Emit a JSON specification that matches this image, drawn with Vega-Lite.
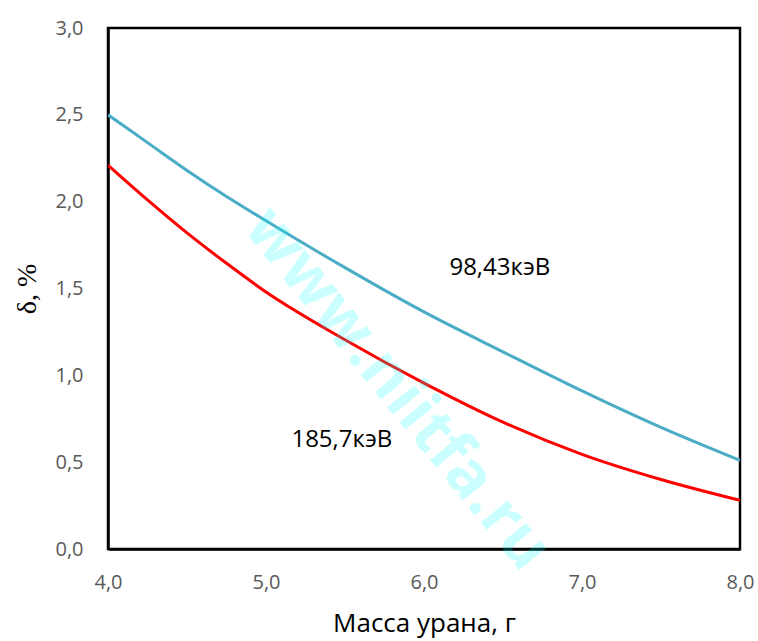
{
  "$schema": "https://vega.github.io/schema/vega-lite/v6.json",
  "width": 632,
  "height": 521,
  "autosize": {"type": "none"},
  "padding": {"left": 108, "top": 28, "right": 18, "bottom": 92},
  "background": "white",
  "config": {
    "view": {"stroke": "black", "strokeWidth": 2.5},
    "font": "Open Sans"
  },
  "datasets": {
    "curves": [
      {"mass": 4.0, "delta": 2.50, "series": "98,43кэВ"},
      {"mass": 4.25, "delta": 2.34, "series": "98,43кэВ"},
      {"mass": 4.5, "delta": 2.18, "series": "98,43кэВ"},
      {"mass": 4.75, "delta": 2.03, "series": "98,43кэВ"},
      {"mass": 5.0, "delta": 1.89, "series": "98,43кэВ"},
      {"mass": 5.5, "delta": 1.62, "series": "98,43кэВ"},
      {"mass": 6.0, "delta": 1.365, "series": "98,43кэВ"},
      {"mass": 6.5, "delta": 1.135, "series": "98,43кэВ"},
      {"mass": 7.0, "delta": 0.91, "series": "98,43кэВ"},
      {"mass": 7.5, "delta": 0.70, "series": "98,43кэВ"},
      {"mass": 8.0, "delta": 0.51, "series": "98,43кэВ"},
      {"mass": 4.0, "delta": 2.21, "series": "185,7кэВ"},
      {"mass": 4.25, "delta": 2.01, "series": "185,7кэВ"},
      {"mass": 4.5, "delta": 1.82, "series": "185,7кэВ"},
      {"mass": 4.75, "delta": 1.645, "series": "185,7кэВ"},
      {"mass": 5.0, "delta": 1.48, "series": "185,7кэВ"},
      {"mass": 5.5, "delta": 1.205, "series": "185,7кэВ"},
      {"mass": 6.0, "delta": 0.955, "series": "185,7кэВ"},
      {"mass": 6.5, "delta": 0.73, "series": "185,7кэВ"},
      {"mass": 7.0, "delta": 0.545, "series": "185,7кэВ"},
      {"mass": 7.5, "delta": 0.40, "series": "185,7кэВ"},
      {"mass": 8.0, "delta": 0.28, "series": "185,7кэВ"}
    ],
    "labels": [
      {"mass": 6.48, "delta": 1.62, "label": "98,43кэВ"},
      {"mass": 5.48, "delta": 0.63, "label": "185,7кэВ"}
    ],
    "watermark": [
      {"mass": 5.83, "delta": 0.92, "label": "www.niitfa.ru"}
    ],
    "xticks": [{"mass": 5}, {"mass": 6}, {"mass": 7}],
    "yticks": [{"delta": 0.5}, {"delta": 1.0}, {"delta": 1.5}, {"delta": 2.0}, {"delta": 2.5}]
  },
  "encoding": {
    "x": {
      "field": "mass", "type": "quantitative",
      "scale": {"domain": [4, 8], "nice": false, "zero": false},
      "axis": {
        "title": "Масса урана, г",
        "values": [4, 5, 6, 7, 8],
        "format": ".1f",
        "labelExpr": "replace(datum.label, '.', ',')",
        "grid": false,
        "ticks": false,
        "domainColor": "black", "domainWidth": 2.5,
        "labelFont": "Open Sans", "labelFontSize": 20, "labelColor": "#595959",
        "labelPadding": 23, "labelFlush": false,
        "titleFont": "Open Sans", "titleFontSize": 26, "titleFontWeight": "normal", "titleColor": "black",
        "titlePadding": 18
      }
    },
    "y": {
      "field": "delta", "type": "quantitative",
      "scale": {"domain": [0, 3], "nice": false},
      "axis": {
        "title": "δ, %",
        "values": [0, 0.5, 1, 1.5, 2, 2.5, 3],
        "format": ".1f",
        "labelExpr": "replace(datum.label, '.', ',')",
        "grid": false,
        "ticks": false,
        "domainColor": "black", "domainWidth": 2.5,
        "labelFont": "Open Sans", "labelFontSize": 20, "labelColor": "#595959",
        "labelPadding": 25, "labelFlush": false,
        "titleFont": "Liberation Serif", "titleFontSize": 28, "titleFontWeight": "normal", "titleColor": "black",
        "titlePadding": 13
      }
    }
  },
  "layer": [
    {
      "data": {"name": "curves"},
      "mark": {"type": "line", "strokeWidth": 3, "interpolate": "monotone", "clip": true},
      "encoding": {
        "color": {
          "field": "series", "type": "nominal",
          "scale": {"domain": ["98,43кэВ", "185,7кэВ"], "range": ["#4BACC6", "#FF0000"]},
          "legend": null
        }
      }
    },
    {
      "data": {"name": "xticks"},
      "mark": {"type": "rule", "strokeWidth": 2.5, "color": "black"},
      "encoding": {
        "y": {"datum": 0, "type": "quantitative"},
        "y2": {"datum": 0.046}
      }
    },
    {
      "data": {"name": "yticks"},
      "mark": {"type": "rule", "strokeWidth": 2.5, "color": "black"},
      "encoding": {
        "x": {"datum": 4, "type": "quantitative"},
        "x2": {"datum": 4.05}
      }
    },
    {
      "data": {"name": "labels"},
      "mark": {"type": "text", "font": "Open Sans", "fontSize": 24, "color": "black", "align": "center", "baseline": "middle"},
      "encoding": {
        "text": {"field": "label"}
      }
    },
    {
      "data": {"name": "watermark"},
      "mark": {"type": "text", "font": "Open Sans", "fontWeight": "bold", "fontSize": 64, "color": "#00FFFF", "opacity": 0.2, "angle": 51, "align": "center", "baseline": "middle", "clip": false},
      "encoding": {
        "text": {"field": "label"}
      }
    }
  ]
}
